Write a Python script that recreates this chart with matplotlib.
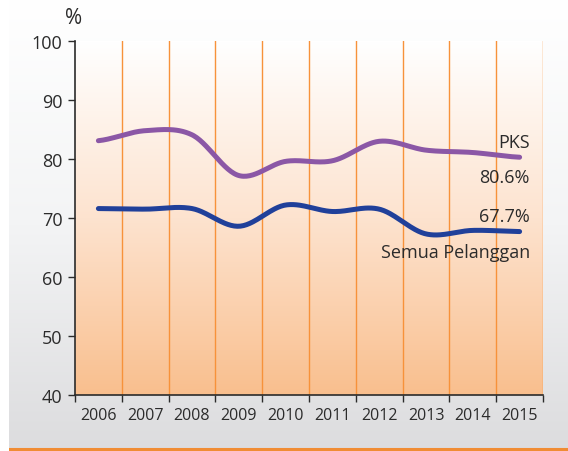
import matplotlib as mpl
mpl.use('Agg')
import matplotlib.pyplot as plt
import numpy as np
from matplotlib.colors import LinearSegmentedColormap

plt.rcParams['font.family'] = ['Open Sans', 'DejaVu Sans']

# data
years = ['2006', '2007', '2008', '2009', '2010', '2011', '2012', '2013', '2014', '2015']
pks = [83.1, 84.8, 84.1, 77.2, 79.6, 79.7, 83.0, 81.5, 81.1, 80.3]
semua = [71.6, 71.5, 71.6, 68.6, 72.2, 71.1, 71.5, 67.3, 67.9, 67.7]
pks_label = 'PKS'
pks_value = '80.6%'
semua_label = 'Semua Pelanggan'
semua_value = '67.7%'


def smooth(x, y, n=30):
    # catmull-rom through the points, only for drawing a soft line
    x = np.asarray(x, float)
    y = np.asarray(y, float)
    px = np.concatenate([[2 * x[0] - x[1]], x, [2 * x[-1] - x[-2]]])
    py = np.concatenate([[y[0]], y, [y[-1]]])
    xs, ys = [], []
    t = np.linspace(0, 1, n, endpoint=False)
    for i in range(1, len(px) - 2):
        p0, p1, p2, p3 = py[i - 1], py[i], py[i + 1], py[i + 2]
        q0, q1, q2, q3 = px[i - 1], px[i], px[i + 1], px[i + 2]
        f = lambda a0, a1, a2, a3: 0.5 * (2 * a1 + (-a0 + a2) * t +
                                          (2 * a0 - 5 * a1 + 4 * a2 - a3) * t ** 2 +
                                          (-a0 + 3 * a1 - 3 * a2 + a3) * t ** 3)
        xs.append(f(q0, q1, q2, q3))
        ys.append(f(p0, p1, p2, p3))
    xs.append([x[-1]])
    ys.append([y[-1]])
    return np.concatenate(xs), np.concatenate(ys)


fig = plt.figure(figsize=(5.68, 4.52), dpi=100)

# grey panel behind everything
bg = fig.add_axes([9 / 568, 0, 1 - 9 / 568, 1])
grey = LinearSegmentedColormap.from_list('g', ['#ffffff', '#f3f4f5', '#dcdcde'])
bg.imshow(np.linspace(0, 1, 256).reshape(-1, 1), aspect='auto', cmap=grey,
          extent=[0, 1, 0, 1], origin='upper')
bg.axhline(2 / 452, color='#f08c34', lw=2.2)
bg.set_xlim(0, 1)
bg.set_ylim(0, 1)
bg.axis('off')

ax = fig.add_axes([75 / 568, 1 - 396 / 452, 468 / 568, 354 / 452])
orange = LinearSegmentedColormap.from_list('o', ['#ffffff', '#fde3cf', '#f9bf8e'])
ax.imshow(np.linspace(0, 1, 256).reshape(-1, 1), aspect='auto', cmap=orange,
          extent=[0, 10, 40, 100], origin='upper', zorder=0)

n = len(years)
for i in range(1, n + 1):
    ax.axvline(i, color='#f7923a', lw=1.0, zorder=1)

xc = np.arange(n) + 0.5
sx, sy = smooth(xc, pks)
ax.plot(sx, sy, color='#8b57a6', lw=3.6, solid_capstyle='round', zorder=3)
sx, sy = smooth(xc, semua)
ax.plot(sx, sy, color='#20409a', lw=3.6, solid_capstyle='round', zorder=3)

tc = '#2b2b2b'
ax.text(9.72, 82.9, pks_label, ha='right', va='center', fontsize=13, color=tc)
ax.text(9.72, 77.0, pks_value, ha='right', va='center', fontsize=13, color=tc)
ax.text(9.72, 70.3, semua_value, ha='right', va='center', fontsize=13, color=tc)
ax.text(9.72, 64.2, semua_label, ha='right', va='center', fontsize=13, color=tc)

ax.set_xlim(0, 10)
ax.set_ylim(40, 100)
ax.set_yticks(range(40, 101, 10))
ax.set_xticks(range(0, n + 1))
ax.set_xticklabels([])
ax.set_xticks(xc, minor=True)
ax.set_xticklabels(years, minor=True)
ax.tick_params(axis='x', which='minor', length=0, labelsize=11.5, pad=9, colors=tc)
ax.tick_params(axis='x', which='major', length=5, width=1, color=tc)
ax.tick_params(axis='y', length=5, width=1, labelsize=13, color=tc,
               labelcolor=tc, pad=4)
for s in ['top', 'right']:
    ax.spines[s].set_visible(False)
for s in ['left', 'bottom']:
    ax.spines[s].set_color(tc)
    ax.spines[s].set_linewidth(1.2)

fig.text(74 / 568, 1 - 19 / 452, '%', ha='center', va='center', fontsize=15, color=tc)

plt.savefig('out.png', dpi=100)
